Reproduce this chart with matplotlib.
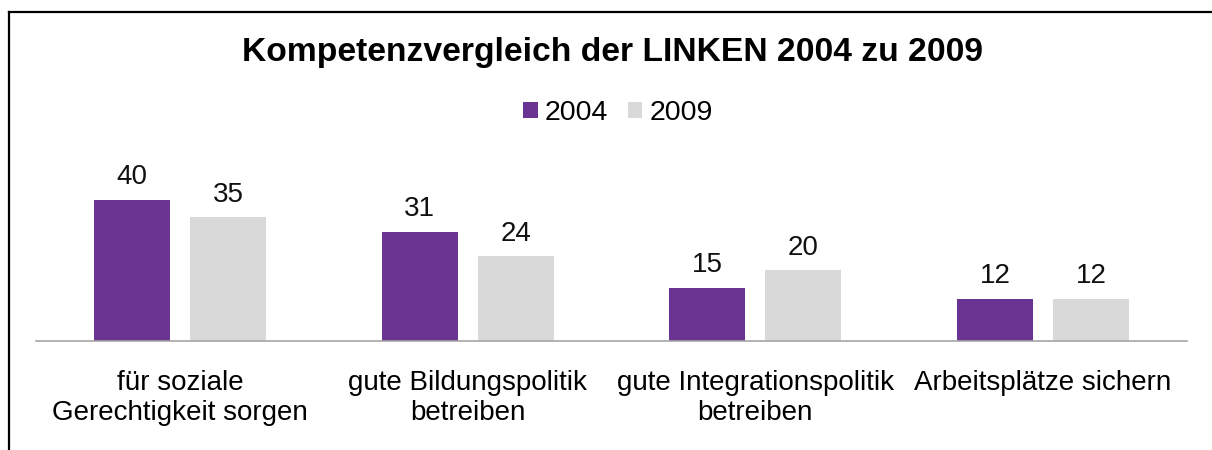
import matplotlib
matplotlib.use("Agg")
import matplotlib.pyplot as plt
from matplotlib.lines import Line2D
import numpy as np

plt.rcParams['font.family'] = ['Liberation Sans', 'DejaVu Sans']

categories = ["für soziale\nGerechtigkeit sorgen", "gute Bildungspolitik\nbetreiben",
              "gute Integrationspolitik\nbetreiben", "Arbeitsplätze sichern"]
werte_2004 = [40, 31, 15, 12]
werte_2009 = [35, 24, 20, 12]
jahre = ["2004", "2009"]

lila = "#6A3592"
grau = "#D9D9D9"

fig = plt.figure(figsize=(12.12, 4.5), dpi=100)
ax = fig.add_axes([36/1212, 1 - 341/450, 1151/1212, 176.5/450])

x = np.arange(len(categories))
w = 0.264
b1 = ax.bar(x - 0.167, werte_2004, w, color=lila, label=jahre[0])
b2 = ax.bar(x + 0.167, werte_2009, w, color=grau, label=jahre[1])
ax.bar_label(b1, padding=7, fontsize=20, color="#111111")
ax.bar_label(b2, padding=7, fontsize=20, color="#111111")

ax.set_xlim(-0.5, 3.5)
ax.set_ylim(0, 50)
ax.set_yticks([])
ax.set_xticks(x)
ax.set_xticklabels(categories, fontsize=20, linespacing=1.2)
ax.tick_params(axis='x', length=0, pad=21)
for s in ['top', 'right', 'left']:
    ax.spines[s].set_visible(False)
ax.spines['bottom'].set_color("#A6A6A6")
ax.spines['bottom'].set_linewidth(1.2)
ax.patch.set_alpha(0)

fig.text(613/1212, 1 - 52/450, "Kompetenzvergleich der LINKEN 2004 zu 2009",
         ha='center', va='center', fontsize=24.2, fontweight='bold')

fig.legend(loc='center', bbox_to_anchor=(618/1212, 1 - 113/450), ncol=2, frameon=False,
           fontsize=20.5, handlelength=0.5, handleheight=0.5, handletextpad=0.25,
           columnspacing=0.7)

# Rahmen (oben und links)
fig.add_artist(Line2D([8.5/1212, 1], [1 - 11.5/450, 1 - 11.5/450], color='black', lw=1.6,
                      transform=fig.transFigure))
fig.add_artist(Line2D([8.5/1212, 8.5/1212], [0, 1 - 11.5/450], color='black', lw=1.6,
                      transform=fig.transFigure))

fig.savefig("out.png", dpi=100)
